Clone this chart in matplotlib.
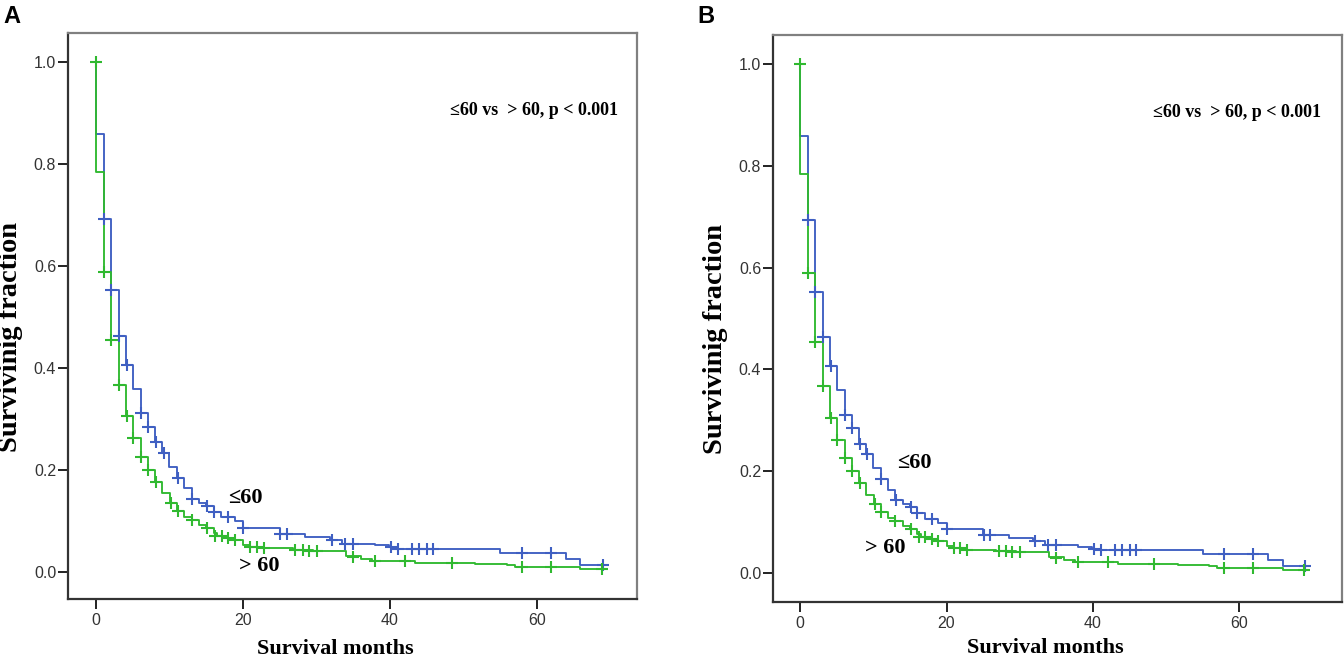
import matplotlib
matplotlib.use("Agg")
import matplotlib.pyplot as plt

# Kaplan-Meier steps: (time in months, survival after the drop)
young_times = [0, 0.05, 1.1, 2.1, 3.1, 4.1, 5.1, 6.1, 7.1, 8.0, 9.0, 10.0, 11.0, 12.0,
               13.0, 14.0, 15.0, 16.0, 17.0, 18.9, 20.0, 25.0, 28.5, 31.8, 33.5, 38.0,
               39.8, 41.0, 55.0, 63.9, 65.9, 69.0]
young_surv = [1.0, 0.859, 0.693, 0.552, 0.463, 0.406, 0.359, 0.311, 0.284, 0.254, 0.234,
              0.206, 0.185, 0.164, 0.143, 0.136, 0.129, 0.118, 0.107, 0.099, 0.086, 0.074,
              0.068, 0.063, 0.055, 0.052, 0.048, 0.045, 0.038, 0.026, 0.0137, 0.0137]
young_cens_t = [1.1, 2.1, 3.1, 4.2, 6.1, 7.1, 8.2, 9.2, 11.1, 13.1, 15.1, 16.0, 18.0,
                20.0, 25.1, 26.0, 32.1, 33.9, 35.0, 40.2, 41.1, 43.0, 44.0, 45.0, 45.9,
                57.9, 61.9, 69.0]
young_cens_s = [0.693, 0.552, 0.463, 0.406, 0.311, 0.284, 0.254, 0.234, 0.185, 0.143,
                0.129, 0.118, 0.107, 0.086, 0.074, 0.074, 0.063, 0.055, 0.055, 0.048,
                0.045, 0.045, 0.045, 0.045, 0.045, 0.038, 0.038, 0.0137]

old_times = [0, 0.05, 1.1, 2.1, 3.1, 4.1, 5.1, 6.1, 7.1, 8.1, 9.0, 10.1, 11.0, 12.0, 13.0,
             14.0, 15.0, 16.0, 16.5, 18.0, 18.9, 20.0, 21.0, 22.5, 26.8, 29.5, 34.0, 36.0,
             37.5, 43.4, 51.6, 55.9, 57.0, 65.9, 68.8]
old_surv = [1.0, 0.784, 0.589, 0.454, 0.367, 0.305, 0.262, 0.226, 0.200, 0.177, 0.154,
            0.135, 0.120, 0.108, 0.102, 0.092, 0.086, 0.076, 0.070, 0.066, 0.063, 0.053,
            0.049, 0.046, 0.043, 0.041, 0.031, 0.025, 0.021, 0.018, 0.016, 0.014, 0.0105,
            0.006, 0.006]
old_cens_t = [0.0, 1.1, 2.1, 3.2, 4.2, 5.1, 6.1, 7.1, 8.2, 10.2, 11.1, 13.0, 15.1, 16.2,
              17.1, 18.0, 18.9, 21.0, 21.9, 22.8, 27.1, 28.1, 29.0, 30.0, 34.9, 38.0,
              42.1, 48.4, 57.9, 61.9, 68.8]
old_cens_s = [1.0, 0.589, 0.454, 0.367, 0.305, 0.262, 0.226, 0.200, 0.177, 0.135, 0.120,
              0.102, 0.086, 0.070, 0.070, 0.066, 0.063, 0.049, 0.049, 0.046, 0.043, 0.043,
              0.041, 0.041, 0.029, 0.021, 0.021, 0.018, 0.0105, 0.0105, 0.006]

xticks = [0, 20, 40, 60]
yticks = [0.0, 0.2, 0.4, 0.6, 0.8, 1.0]

blue = "#3f5fc2"
green = "#30b930"
serif = ["Liberation Serif", "DejaVu Serif"]

fig = plt.figure(figsize=(13.44, 6.58), dpi=100)

panels = [
    # letter, axes rect, xlim, ylim, young label, old label, xlabel pos, letter x px
    ("A", [0.0506, 0.0897, 0.4234, 0.8602], (-3.8, 73.6), (-0.053, 1.057),
     (18.0, 0.145), (19.5, 0.012), (0.469, -0.070), 3),
    ("B", [0.5751, 0.0851, 0.4234, 0.8617], (-3.7, 74.0), (-0.057, 1.057),
     (13.2, 0.216), (8.9, 0.049), (0.478, -0.064), 697),
]

for letter, rect, xlim, ylim, ylab, olab, xlpos, letter_px in panels:
    ax = fig.add_axes(rect)
    ax.step(young_times, young_surv, where="post", color=blue, lw=1.35)
    ax.step(old_times, old_surv, where="post", color=green, lw=1.35)
    ax.plot(young_cens_t, young_cens_s, ls="none", marker="+", ms=9, mew=1.5, color=blue)
    ax.plot(old_cens_t, old_cens_s, ls="none", marker="+", ms=9, mew=1.5, color=green)

    ax.set_xlim(*xlim)
    ax.set_ylim(*ylim)
    ax.set_xticks(xticks)
    ax.set_yticks(yticks)
    ax.set_yticklabels([f"{v:.1f}" for v in yticks])
    ax.tick_params(direction="out", length=7, width=1.4, color="#222222",
                   labelsize=11.5, labelcolor="#333333")
    ax.tick_params(axis="y", pad=1.5)
    ax.tick_params(axis="x", pad=3)
    for lab in ax.get_xticklabels() + ax.get_yticklabels():
        lab.set_family("Liberation Sans")

    for side in ["left", "bottom"]:
        ax.spines[side].set_color("#333333")
        ax.spines[side].set_linewidth(1.6)
    for side in ["top", "right"]:
        ax.spines[side].set_color("#808080")
        ax.spines[side].set_linewidth(1.6)

    ax.set_ylabel("Survivinig fraction", family=serif, fontweight="bold", fontsize=20.5)
    ax.yaxis.set_label_coords(-0.079, 0.463)
    ax.set_xlabel("Survival months", family=serif, fontweight="bold", fontsize=16)
    ax.xaxis.set_label_coords(*xlpos)

    ax.text(48.2, 0.904, "≤60 vs  > 60, p < 0.001", family=serif, fontweight="bold",
            fontsize=13, ha="left", va="center")
    ax.text(ylab[0], ylab[1], "≤60", family=serif, fontweight="bold", fontsize=16,
            ha="left", va="center")
    ax.text(olab[0], olab[1], "> 60", family=serif, fontweight="bold", fontsize=16,
            ha="left", va="center")

    fig.text(letter_px / 1344, 1 - 23 / 658, letter, family="Liberation Sans",
             fontweight="bold", fontsize=17, ha="left", va="baseline")

fig.savefig("out.png", dpi=100)
